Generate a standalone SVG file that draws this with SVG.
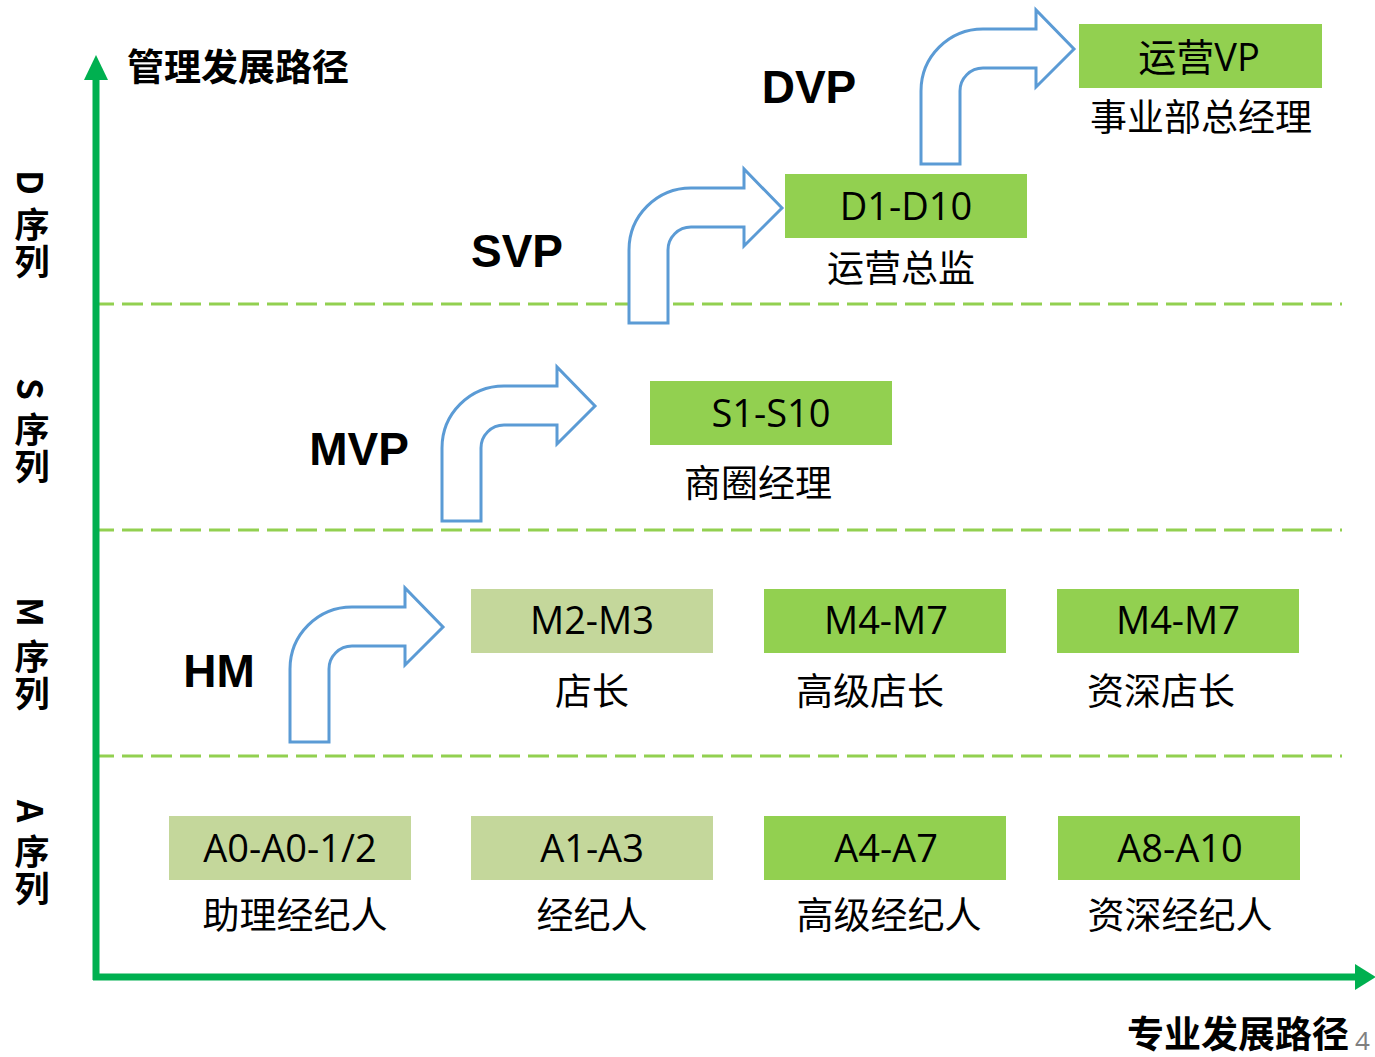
<svg xmlns="http://www.w3.org/2000/svg" width="1375" height="1057" viewBox="0 0 1375 1057">
<style>
.bg{fill:#ffffff}
.axis{stroke:#00B050;stroke-width:7;fill:none}
.axhead{fill:#00B050}
.dash{stroke:#92D050;stroke-width:3;stroke-dasharray:21 8;fill:none}
.bend{fill:#ffffff;stroke:#5B9BD5;stroke-width:3;stroke-linejoin:miter}
.g1{fill:#92D050}
.g2{fill:#C4D79B}
.bt{font-family:"Open Sans","Noto Sans CJK SC",sans-serif;font-size:38px;fill:#000;text-anchor:middle}
.lb{font-family:"Noto Sans CJK SC",sans-serif;font-size:37px;fill:#000;text-anchor:middle}
.hd{font-family:"Noto Sans CJK SC",sans-serif;font-size:37px;font-weight:bold;fill:#000}
.vp{font-family:"Liberation Sans",Arial,sans-serif;font-size:46px;font-weight:bold;fill:#000;text-anchor:middle}
.vc{font-family:"Noto Sans CJK SC",sans-serif;font-size:35px;font-weight:bold;fill:#000;writing-mode:vertical-rl;text-orientation:mixed;letter-spacing:2px}
.pg{font-family:"Open Sans",sans-serif;font-size:26px;fill:#808080}
</style>
<defs>
<path id="bent" d="M 290 742 L 290 669 A 62 62 0 0 1 352 607 L 405 607 L 405 588 L 443 627 L 405 665 L 405 646 L 352 646 A 23 23 0 0 0 329 669 L 329 742 Z"/>
</defs>
<rect class="bg" x="0" y="0" width="1375" height="1057"/>

<g id="grid">
<line class="dash" x1="93" y1="304" x2="1342" y2="304"/>
<line class="dash" x1="93" y1="530" x2="1342" y2="530"/>
<line class="dash" x1="93" y1="756" x2="1342" y2="756"/>
</g>

<g id="axes">
<line class="axis" x1="96" y1="980" x2="96" y2="76"/>
<polygon class="axhead" points="96,55 84,80 108,80"/>
<line class="axis" x1="93" y1="977" x2="1358" y2="977"/>
<polygon class="axhead" points="1376,977 1355,964 1355,990"/>
<text class="hd" x="127" y="81">管理发展路径</text>
<text class="hd" x="1127" y="1048">专业发展路径</text>
<text class="pg" x="1355" y="1050">4</text>
</g>

<g id="series-labels">
<text class="vc" x="32" y="170">D 序列</text>
<text class="vc" x="32" y="378">S 序列</text>
<text class="vc" x="32" y="597">M 序列</text>
<text class="vc" x="32" y="800">A 序列</text>
</g>

<g id="connectors">
<use href="#bent" class="bend"/>
<use href="#bent" class="bend" transform="translate(152,-221)"/>
<use href="#bent" class="bend" transform="translate(339,-419)"/>
<use href="#bent" class="bend" transform="translate(631,-578)"/>
</g>

<g id="level-labels">
<text class="vp" x="809" y="103">DVP</text>
<text class="vp" x="517" y="267">SVP</text>
<text class="vp" x="359" y="465">MVP</text>
<text class="vp" x="219" y="687">HM</text>
</g>

<g id="node-vp">
<rect class="g1" x="1079" y="24" width="243" height="64"/>
<text class="bt" x="1199" y="71">运营VP</text>
<text class="lb" x="1201" y="131">事业部总经理</text>
</g>
<g id="node-d">
<rect class="g1" x="785" y="174" width="242" height="64"/>
<text class="bt" x="906" y="220">D1-D10</text>
<text class="lb" x="901" y="282">运营总监</text>
</g>
<g id="node-s">
<rect class="g1" x="650" y="381" width="242" height="64"/>
<text class="bt" x="771" y="427">S1-S10</text>
<text class="lb" x="758" y="497">商圈经理</text>
</g>
<g id="node-m1">
<rect class="g2" x="471" y="589" width="242" height="64"/>
<text class="bt" x="592" y="634">M2-M3</text>
<text class="lb" x="592" y="705">店长</text>
</g>
<g id="node-m2">
<rect class="g1" x="764" y="589" width="242" height="64"/>
<text class="bt" x="886" y="634">M4-M7</text>
<text class="lb" x="870" y="705">高级店长</text>
</g>
<g id="node-m3">
<rect class="g1" x="1057" y="589" width="242" height="64"/>
<text class="bt" x="1178" y="634">M4-M7</text>
<text class="lb" x="1161" y="705">资深店长</text>
</g>
<g id="node-a1">
<rect class="g2" x="169" y="816" width="242" height="64"/>
<text class="bt" x="290" y="862">A0-A0-1/2</text>
<text class="lb" x="295" y="929">助理经纪人</text>
</g>
<g id="node-a2">
<rect class="g2" x="471" y="816" width="242" height="64"/>
<text class="bt" x="592" y="862">A1-A3</text>
<text class="lb" x="592" y="929">经纪人</text>
</g>
<g id="node-a3">
<rect class="g1" x="764" y="816" width="242" height="64"/>
<text class="bt" x="886" y="862">A4-A7</text>
<text class="lb" x="889" y="929">高级经纪人</text>
</g>
<g id="node-a4">
<rect class="g1" x="1058" y="816" width="242" height="64"/>
<text class="bt" x="1180" y="862">A8-A10</text>
<text class="lb" x="1180" y="929">资深经纪人</text>
</g>
</svg>
